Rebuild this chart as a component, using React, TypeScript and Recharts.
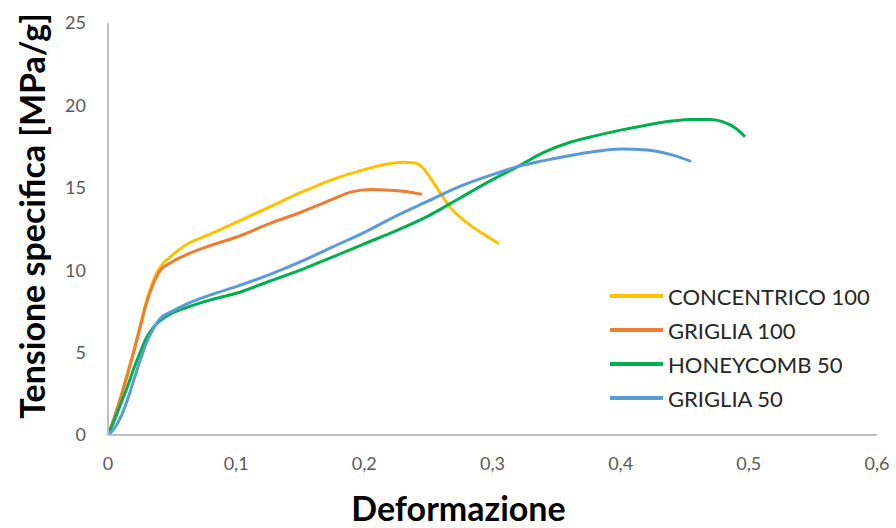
import { LineChart, Line, XAxis, YAxis } from 'recharts';

const xTicks = [0, 0.1, 0.2, 0.3, 0.4, 0.5, 0.6];
const yTicks = [0, 5, 10, 15, 20, 25];

// Concentrico 100
const concX = [0, 0.005, 0.01, 0.015, 0.02, 0.025, 0.03, 0.035, 0.04, 0.05, 0.06, 0.08, 0.1, 0.125, 0.15, 0.175, 0.2, 0.215, 0.23, 0.24, 0.247, 0.254, 0.26, 0.267, 0.275, 0.285, 0.295, 0.305];
const concY = [0, 1.0, 2.3, 3.7, 5.1, 6.6, 8.1, 9.3, 10.1, 10.9, 11.5, 12.2, 12.9, 13.8, 14.7, 15.5, 16.1, 16.4, 16.55, 16.5, 16.1, 15.3, 14.6, 13.8, 13.2, 12.6, 12.1, 11.6];

// Griglia 100
const gr100X = [0, 0.005, 0.01, 0.015, 0.02, 0.025, 0.03, 0.035, 0.04, 0.05, 0.06, 0.08, 0.1, 0.125, 0.15, 0.175, 0.19, 0.205, 0.22, 0.235, 0.245];
const gr100Y = [0, 1.1, 2.3, 3.6, 5.0, 6.5, 8.0, 9.1, 9.9, 10.5, 10.9, 11.5, 12.0, 12.8, 13.5, 14.3, 14.75, 14.9, 14.85, 14.75, 14.6];

// Honeycomb 50
const honX = [0, 0.005, 0.01, 0.015, 0.02, 0.025, 0.03, 0.035, 0.04, 0.05, 0.06, 0.08, 0.1, 0.125, 0.15, 0.175, 0.2, 0.225, 0.25, 0.275, 0.3, 0.32, 0.34, 0.36, 0.38, 0.4, 0.42, 0.44, 0.455, 0.47, 0.48, 0.49, 0.497];
const honY = [0, 0.9, 1.9, 2.9, 4.0, 5.0, 5.9, 6.5, 6.9, 7.4, 7.7, 8.2, 8.6, 9.3, 10.0, 10.8, 11.6, 12.4, 13.3, 14.4, 15.5, 16.3, 17.15, 17.75, 18.15, 18.5, 18.8, 19.05, 19.15, 19.15, 19.0, 18.6, 18.1];

// Griglia 50
const gr50X = [0, 0.005, 0.01, 0.015, 0.02, 0.025, 0.03, 0.035, 0.04, 0.05, 0.06, 0.08, 0.1, 0.125, 0.15, 0.175, 0.2, 0.225, 0.25, 0.275, 0.3, 0.32, 0.34, 0.36, 0.38, 0.4, 0.42, 0.44, 0.455];
const gr50Y = [0, 0.4, 1.1, 2.1, 3.3, 4.5, 5.6, 6.4, 7.0, 7.5, 7.9, 8.5, 9.0, 9.7, 10.5, 11.4, 12.3, 13.3, 14.2, 15.1, 15.8, 16.3, 16.65, 16.95, 17.2, 17.35, 17.3, 17.0, 16.6];

const toPoints = (xs: number[], ys: number[]) => xs.map((x, i) => ({ x, y: ys[i] }));

const series = [
  { name: 'CONCENTRICO 100', color: '#FFC000', data: toPoints(concX, concY) },
  { name: 'GRIGLIA 100', color: '#ED7D31', data: toPoints(gr100X, gr100Y) },
  { name: 'HONEYCOMB 50', color: '#00B050', data: toPoints(honX, honY) },
  { name: 'GRIGLIA 50', color: '#5B9BD5', data: toPoints(gr50X, gr50Y) },
];

const FONT = 'Lato, "Open Sans", sans-serif';
const axisColor = '#BFBFBF';
const tickStyle = { fontSize: 18, fill: '#595959', fontFamily: FONT };
const titleStyle = { fontFamily: FONT, fontSize: 34, fontWeight: 700, fill: '#000' };

// legend sits over the plot, it takes no room from it
function LegendBox() {
  return (
    <div
      style={{
        position: 'absolute',
        left: 610,
        top: 279,
        fontFamily: FONT,
        fontSize: 22,
        color: '#262626',
      }}
    >
      {series.map((s) => (
        <div key={s.name} style={{ display: 'flex', alignItems: 'center', height: 34 }}>
          <span style={{ width: 53, height: 4, background: s.color, marginRight: 5 }} />
          <span>{s.name}</span>
        </div>
      ))}
    </div>
  );
}

export default function App() {
  return (
    <div style={{ position: 'absolute', left: 0, top: 0, width: 896, height: 528 }}>
      <LineChart width={896} height={528} margin={{ top: 23, right: 19, left: 0, bottom: 0 }}>
        <XAxis
          dataKey="x"
          type="number"
          domain={[0, 0.6]}
          ticks={xTicks}
          tickFormatter={(v) => String(v).replace('.', ',')}
          tick={tickStyle}
          tickLine={false}
          tickSize={0}
          tickMargin={22}
          axisLine={{ stroke: axisColor, strokeWidth: 2 }}
          height={93}
          allowDuplicatedCategory={false}
          label={(props: any) => {
            const vb = props.viewBox;
            return (
              <text x={vb.x + vb.width / 2 - 34} y={vb.y + vb.height - 7} textAnchor="middle" style={titleStyle}>
                Deformazione
              </text>
            );
          }}
        />
        <YAxis
          dataKey="y"
          type="number"
          domain={[0, 25]}
          ticks={yTicks}
          tick={tickStyle}
          tickLine={false}
          tickSize={0}
          tickMargin={22}
          axisLine={{ stroke: axisColor, strokeWidth: 2 }}
          width={108}
          label={(props: any) => {
            const vb = props.viewBox;
            const cx = vb.x + 45;
            const cy = vb.y + vb.height / 2 - 13;
            return (
              <text x={cx} y={cy} transform={`rotate(-90, ${cx}, ${cy})`} textAnchor="middle" style={titleStyle}>
                Tensione specifica [MPa/g]
              </text>
            );
          }}
        />
        {series.map((s) => (
          <Line
            key={s.name}
            data={s.data}
            dataKey="y"
            name={s.name}
            type="monotone"
            stroke={s.color}
            strokeWidth={3}
            dot={false}
            activeDot={false}
            isAnimationActive={false}
          />
        ))}
      </LineChart>
      <LegendBox />
    </div>
  );
}
